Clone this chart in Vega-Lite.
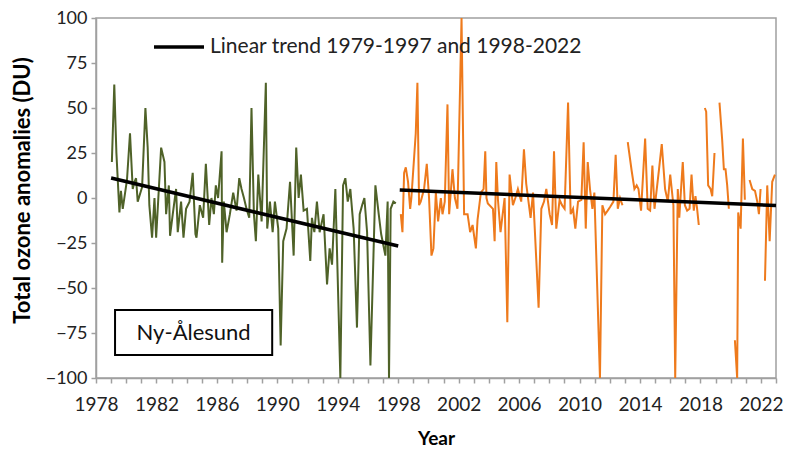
{
  "$schema": "https://vega.github.io/schema/vega-lite/v6.json",
  "width": 680,
  "height": 360,
  "autosize": {"type": "none"},
  "padding": {"left": 96, "top": 18, "right": 13, "bottom": 74},
  "background": "white",
  "config": {
    "view": {"stroke": "#a0a0a0", "strokeWidth": 1.5},
    "font": "Lato",
    "axis": {"grid": false, "domainColor": "#a0a0a0", "domainWidth": 1.5, "tickColor": "#a0a0a0", "tickWidth": 1.5, "labelColor": "#222222", "titleColor": "#000000", "labelFont": "Lato", "titleFont": "Lato"}
  },
  "datasets": {
    "ozone": [
      {"t": 1979.05, "v": 20, "s": "1979-1997"},
      {"t": 1979.21, "v": 63, "s": "1979-1997"},
      {"t": 1979.35, "v": 25, "s": "1979-1997"},
      {"t": 1979.55, "v": -8, "s": "1979-1997"},
      {"t": 1979.65, "v": 4, "s": "1979-1997"},
      {"t": 1979.77, "v": -6, "s": "1979-1997"},
      {"t": 1980.05, "v": 10, "s": "1979-1997"},
      {"t": 1980.25, "v": 36, "s": "1979-1997"},
      {"t": 1980.43, "v": 5, "s": "1979-1997"},
      {"t": 1980.55, "v": 9, "s": "1979-1997"},
      {"t": 1980.65, "v": 11, "s": "1979-1997"},
      {"t": 1980.76, "v": -2, "s": "1979-1997"},
      {"t": 1981.05, "v": 6, "s": "1979-1997"},
      {"t": 1981.27, "v": 50, "s": "1979-1997"},
      {"t": 1981.42, "v": 28, "s": "1979-1997"},
      {"t": 1981.53, "v": -4, "s": "1979-1997"},
      {"t": 1981.71, "v": -22, "s": "1979-1997"},
      {"t": 1981.87, "v": 0, "s": "1979-1997"},
      {"t": 1981.98, "v": -22, "s": "1979-1997"},
      {"t": 1982.31, "v": 28, "s": "1979-1997"},
      {"t": 1982.53, "v": 20, "s": "1979-1997"},
      {"t": 1982.64, "v": -9, "s": "1979-1997"},
      {"t": 1982.82, "v": 7, "s": "1979-1997"},
      {"t": 1982.9, "v": -21, "s": "1979-1997"},
      {"t": 1983.08, "v": -9, "s": "1979-1997"},
      {"t": 1983.3, "v": 5, "s": "1979-1997"},
      {"t": 1983.41, "v": -19, "s": "1979-1997"},
      {"t": 1983.63, "v": -2, "s": "1979-1997"},
      {"t": 1983.79, "v": -22, "s": "1979-1997"},
      {"t": 1983.96, "v": -6, "s": "1979-1997"},
      {"t": 1984.19, "v": -2, "s": "1979-1997"},
      {"t": 1984.4, "v": 14, "s": "1979-1997"},
      {"t": 1984.58, "v": -20, "s": "1979-1997"},
      {"t": 1984.65, "v": -22, "s": "1979-1997"},
      {"t": 1984.87, "v": -4, "s": "1979-1997"},
      {"t": 1985.09, "v": -11, "s": "1979-1997"},
      {"t": 1985.27, "v": 19, "s": "1979-1997"},
      {"t": 1985.49, "v": -15, "s": "1979-1997"},
      {"t": 1985.64, "v": 0, "s": "1979-1997"},
      {"t": 1985.8, "v": -9, "s": "1979-1997"},
      {"t": 1985.93, "v": 7, "s": "1979-1997"},
      {"t": 1986.08, "v": 0, "s": "1979-1997"},
      {"t": 1986.31, "v": 26, "s": "1979-1997"},
      {"t": 1986.35, "v": -36, "s": "1979-1997"},
      {"t": 1986.46, "v": -2, "s": "1979-1997"},
      {"t": 1986.64, "v": -19, "s": "1979-1997"},
      {"t": 1986.86, "v": -9, "s": "1979-1997"},
      {"t": 1987.08, "v": 3, "s": "1979-1997"},
      {"t": 1987.3, "v": -7, "s": "1979-1997"},
      {"t": 1987.48, "v": 11, "s": "1979-1997"},
      {"t": 1987.63, "v": 5, "s": "1979-1997"},
      {"t": 1987.79, "v": 0, "s": "1979-1997"},
      {"t": 1987.96, "v": -6, "s": "1979-1997"},
      {"t": 1988.14, "v": -11, "s": "1979-1997"},
      {"t": 1988.29, "v": 50, "s": "1979-1997"},
      {"t": 1988.45, "v": -9, "s": "1979-1997"},
      {"t": 1988.58, "v": -24, "s": "1979-1997"},
      {"t": 1988.74, "v": 13, "s": "1979-1997"},
      {"t": 1988.96, "v": -13, "s": "1979-1997"},
      {"t": 1989.24, "v": 64, "s": "1979-1997"},
      {"t": 1989.33, "v": -17, "s": "1979-1997"},
      {"t": 1989.51, "v": -2, "s": "1979-1997"},
      {"t": 1989.69, "v": -19, "s": "1979-1997"},
      {"t": 1989.84, "v": -2, "s": "1979-1997"},
      {"t": 1990.06, "v": -17, "s": "1979-1997"},
      {"t": 1990.22, "v": -82, "s": "1979-1997"},
      {"t": 1990.39, "v": -24, "s": "1979-1997"},
      {"t": 1990.61, "v": -17, "s": "1979-1997"},
      {"t": 1990.84, "v": 9, "s": "1979-1997"},
      {"t": 1991.08, "v": -32, "s": "1979-1997"},
      {"t": 1991.25, "v": 28, "s": "1979-1997"},
      {"t": 1991.41, "v": 0, "s": "1979-1997"},
      {"t": 1991.56, "v": 13, "s": "1979-1997"},
      {"t": 1991.74, "v": -7, "s": "1979-1997"},
      {"t": 1991.96, "v": -6, "s": "1979-1997"},
      {"t": 1992.18, "v": -35, "s": "1979-1997"},
      {"t": 1992.29, "v": -11, "s": "1979-1997"},
      {"t": 1992.45, "v": -19, "s": "1979-1997"},
      {"t": 1992.62, "v": -2, "s": "1979-1997"},
      {"t": 1992.8, "v": -19, "s": "1979-1997"},
      {"t": 1993.06, "v": -9, "s": "1979-1997"},
      {"t": 1993.29, "v": -48, "s": "1979-1997"},
      {"t": 1993.46, "v": -28, "s": "1979-1997"},
      {"t": 1993.62, "v": -37, "s": "1979-1997"},
      {"t": 1993.84, "v": 5, "s": "1979-1997"},
      {"t": 1994.17, "v": -100, "s": "1979-1997"},
      {"t": 1994.35, "v": 7, "s": "1979-1997"},
      {"t": 1994.5, "v": 11, "s": "1979-1997"},
      {"t": 1994.66, "v": -2, "s": "1979-1997"},
      {"t": 1994.83, "v": 5, "s": "1979-1997"},
      {"t": 1995.05, "v": -17, "s": "1979-1997"},
      {"t": 1995.27, "v": -72, "s": "1979-1997"},
      {"t": 1995.45, "v": -9, "s": "1979-1997"},
      {"t": 1995.61, "v": -4, "s": "1979-1997"},
      {"t": 1995.76, "v": 0, "s": "1979-1997"},
      {"t": 1995.94, "v": -19, "s": "1979-1997"},
      {"t": 1996.16, "v": -93, "s": "1979-1997"},
      {"t": 1996.49, "v": 7, "s": "1979-1997"},
      {"t": 1996.71, "v": -9, "s": "1979-1997"},
      {"t": 1996.87, "v": -20, "s": "1979-1997"},
      {"t": 1997.15, "v": -32, "s": "1979-1997"},
      {"t": 1997.3, "v": -2, "s": "1979-1997"},
      {"t": 1997.39, "v": -100, "s": "1979-1997"},
      {"t": 1997.5, "v": -6, "s": "1979-1997"},
      {"t": 1997.68, "v": -2, "s": "1979-1997"},
      {"t": 1997.84, "v": -3, "s": "1979-1997"},
      {"t": 1998.17, "v": -9, "s": "1998-2022"},
      {"t": 1998.28, "v": -19, "s": "1998-2022"},
      {"t": 1998.39, "v": 14, "s": "1998-2022"},
      {"t": 1998.5, "v": 17, "s": "1998-2022"},
      {"t": 1998.65, "v": 9, "s": "1998-2022"},
      {"t": 1998.79, "v": -6, "s": "1998-2022"},
      {"t": 1998.87, "v": 0, "s": "1998-2022"},
      {"t": 1999.16, "v": 36, "s": "1998-2022"},
      {"t": 1999.27, "v": 64, "s": "1998-2022"},
      {"t": 1999.38, "v": -4, "s": "1998-2022"},
      {"t": 1999.49, "v": -2, "s": "1998-2022"},
      {"t": 1999.71, "v": 5, "s": "1998-2022"},
      {"t": 1999.89, "v": 19, "s": "1998-2022"},
      {"t": 2000.04, "v": 0, "s": "1998-2022"},
      {"t": 2000.2, "v": -32, "s": "1998-2022"},
      {"t": 2000.33, "v": -28, "s": "1998-2022"},
      {"t": 2000.49, "v": 3, "s": "1998-2022"},
      {"t": 2000.64, "v": -13, "s": "1998-2022"},
      {"t": 2000.82, "v": 0, "s": "1998-2022"},
      {"t": 2000.93, "v": -9, "s": "1998-2022"},
      {"t": 2001.08, "v": -2, "s": "1998-2022"},
      {"t": 2001.26, "v": 52, "s": "1998-2022"},
      {"t": 2001.37, "v": -9, "s": "1998-2022"},
      {"t": 2001.59, "v": 16, "s": "1998-2022"},
      {"t": 2001.75, "v": 0, "s": "1998-2022"},
      {"t": 2001.92, "v": -6, "s": "1998-2022"},
      {"t": 2002.19, "v": 100, "s": "1998-2022"},
      {"t": 2002.36, "v": -9, "s": "1998-2022"},
      {"t": 2002.59, "v": -9, "s": "1998-2022"},
      {"t": 2002.76, "v": -19, "s": "1998-2022"},
      {"t": 2002.92, "v": -15, "s": "1998-2022"},
      {"t": 2003.14, "v": -28, "s": "1998-2022"},
      {"t": 2003.25, "v": -12, "s": "1998-2022"},
      {"t": 2003.47, "v": 3, "s": "1998-2022"},
      {"t": 2003.65, "v": 5, "s": "1998-2022"},
      {"t": 2003.76, "v": 26, "s": "1998-2022"},
      {"t": 2003.84, "v": 0, "s": "1998-2022"},
      {"t": 2003.93, "v": -3, "s": "1998-2022"},
      {"t": 2004.27, "v": -6, "s": "1998-2022"},
      {"t": 2004.38, "v": -24, "s": "1998-2022"},
      {"t": 2004.49, "v": 20, "s": "1998-2022"},
      {"t": 2004.6, "v": -1, "s": "1998-2022"},
      {"t": 2004.77, "v": -19, "s": "1998-2022"},
      {"t": 2005.04, "v": 0, "s": "1998-2022"},
      {"t": 2005.22, "v": -69, "s": "1998-2022"},
      {"t": 2005.37, "v": 13, "s": "1998-2022"},
      {"t": 2005.59, "v": -4, "s": "1998-2022"},
      {"t": 2005.75, "v": 0, "s": "1998-2022"},
      {"t": 2005.92, "v": 5, "s": "1998-2022"},
      {"t": 2006.14, "v": -2, "s": "1998-2022"},
      {"t": 2006.32, "v": 27, "s": "1998-2022"},
      {"t": 2006.47, "v": 8, "s": "1998-2022"},
      {"t": 2006.59, "v": 0, "s": "1998-2022"},
      {"t": 2006.76, "v": -11, "s": "1998-2022"},
      {"t": 2006.92, "v": 3, "s": "1998-2022"},
      {"t": 2007.29, "v": -61, "s": "1998-2022"},
      {"t": 2007.47, "v": -6, "s": "1998-2022"},
      {"t": 2007.65, "v": -2, "s": "1998-2022"},
      {"t": 2007.8, "v": 5, "s": "1998-2022"},
      {"t": 2008.02, "v": -9, "s": "1998-2022"},
      {"t": 2008.18, "v": -15, "s": "1998-2022"},
      {"t": 2008.31, "v": 26, "s": "1998-2022"},
      {"t": 2008.46, "v": -17, "s": "1998-2022"},
      {"t": 2008.68, "v": -1, "s": "1998-2022"},
      {"t": 2008.84, "v": -4, "s": "1998-2022"},
      {"t": 2009.01, "v": -6, "s": "1998-2022"},
      {"t": 2009.24, "v": 53, "s": "1998-2022"},
      {"t": 2009.41, "v": -9, "s": "1998-2022"},
      {"t": 2009.57, "v": -6, "s": "1998-2022"},
      {"t": 2009.72, "v": -17, "s": "1998-2022"},
      {"t": 2009.9, "v": -2, "s": "1998-2022"},
      {"t": 2010.12, "v": -1, "s": "1998-2022"},
      {"t": 2010.27, "v": 31, "s": "1998-2022"},
      {"t": 2010.41, "v": -17, "s": "1998-2022"},
      {"t": 2010.54, "v": 20, "s": "1998-2022"},
      {"t": 2010.69, "v": 5, "s": "1998-2022"},
      {"t": 2010.85, "v": -6, "s": "1998-2022"},
      {"t": 2010.98, "v": 3, "s": "1998-2022"},
      {"t": 2011.35, "v": -100, "s": "1998-2022"},
      {"t": 2011.51, "v": -4, "s": "1998-2022"},
      {"t": 2011.69, "v": -9, "s": "1998-2022"},
      {"t": 2011.86, "v": -7, "s": "1998-2022"},
      {"t": 2012.02, "v": -5, "s": "1998-2022"},
      {"t": 2012.24, "v": -2, "s": "1998-2022"},
      {"t": 2012.39, "v": 24, "s": "1998-2022"},
      {"t": 2012.53, "v": -6, "s": "1998-2022"},
      {"t": 2012.68, "v": 0, "s": "1998-2022"},
      {"t": 2012.84, "v": -4, "s": "1998-2022"},
      {"t": 2013.0, "v": null, "s": "1998-2022"},
      {"t": 2013.19, "v": 31, "s": "1998-2022"},
      {"t": 2013.45, "v": 15, "s": "1998-2022"},
      {"t": 2013.63, "v": 5, "s": "1998-2022"},
      {"t": 2013.78, "v": 7, "s": "1998-2022"},
      {"t": 2013.9, "v": 5, "s": "1998-2022"},
      {"t": 2014.07, "v": -7, "s": "1998-2022"},
      {"t": 2014.34, "v": 33, "s": "1998-2022"},
      {"t": 2014.51, "v": -6, "s": "1998-2022"},
      {"t": 2014.67, "v": -7, "s": "1998-2022"},
      {"t": 2014.82, "v": 18, "s": "1998-2022"},
      {"t": 2014.96, "v": -6, "s": "1998-2022"},
      {"t": 2015.26, "v": 16, "s": "1998-2022"},
      {"t": 2015.44, "v": 30, "s": "1998-2022"},
      {"t": 2015.66, "v": 5, "s": "1998-2022"},
      {"t": 2015.84, "v": -2, "s": "1998-2022"},
      {"t": 2016.0, "v": 13, "s": "1998-2022"},
      {"t": 2016.21, "v": -4, "s": "1998-2022"},
      {"t": 2016.33, "v": -100, "s": "1998-2022"},
      {"t": 2016.5, "v": 5, "s": "1998-2022"},
      {"t": 2016.6, "v": -11, "s": "1998-2022"},
      {"t": 2016.68, "v": 0, "s": "1998-2022"},
      {"t": 2016.83, "v": 20, "s": "1998-2022"},
      {"t": 2016.97, "v": -4, "s": "1998-2022"},
      {"t": 2017.12, "v": -7, "s": "1998-2022"},
      {"t": 2017.28, "v": -6, "s": "1998-2022"},
      {"t": 2017.41, "v": 13, "s": "1998-2022"},
      {"t": 2017.56, "v": -7, "s": "1998-2022"},
      {"t": 2017.67, "v": 1, "s": "1998-2022"},
      {"t": 2017.78, "v": -6, "s": "1998-2022"},
      {"t": 2017.89, "v": -15, "s": "1998-2022"},
      {"t": 2018.1, "v": null, "s": "1998-2022"},
      {"t": 2018.29, "v": 50, "s": "1998-2022"},
      {"t": 2018.38, "v": 48, "s": "1998-2022"},
      {"t": 2018.51, "v": 7, "s": "1998-2022"},
      {"t": 2018.67, "v": 5, "s": "1998-2022"},
      {"t": 2018.78, "v": 1, "s": "1998-2022"},
      {"t": 2018.93, "v": 25, "s": "1998-2022"},
      {"t": 2019.1, "v": null, "s": "1998-2022"},
      {"t": 2019.26, "v": 53, "s": "1998-2022"},
      {"t": 2019.44, "v": 32, "s": "1998-2022"},
      {"t": 2019.55, "v": 16, "s": "1998-2022"},
      {"t": 2019.66, "v": 16, "s": "1998-2022"},
      {"t": 2019.77, "v": 7, "s": "1998-2022"},
      {"t": 2019.88, "v": -6, "s": "1998-2022"},
      {"t": 2020.1, "v": null, "s": "1998-2022"},
      {"t": 2020.28, "v": -79, "s": "1998-2022"},
      {"t": 2020.43, "v": -100, "s": "1998-2022"},
      {"t": 2020.5, "v": -8, "s": "1998-2022"},
      {"t": 2020.66, "v": -17, "s": "1998-2022"},
      {"t": 2020.81, "v": 33, "s": "1998-2022"},
      {"t": 2020.94, "v": -1, "s": "1998-2022"},
      {"t": 2021.1, "v": null, "s": "1998-2022"},
      {"t": 2021.25, "v": 10, "s": "1998-2022"},
      {"t": 2021.43, "v": 5, "s": "1998-2022"},
      {"t": 2021.61, "v": 4, "s": "1998-2022"},
      {"t": 2021.76, "v": -2, "s": "1998-2022"},
      {"t": 2021.87, "v": -9, "s": "1998-2022"},
      {"t": 2021.98, "v": 5, "s": "1998-2022"},
      {"t": 2022.12, "v": null, "s": "1998-2022"},
      {"t": 2022.27, "v": -46, "s": "1998-2022"},
      {"t": 2022.42, "v": 7, "s": "1998-2022"},
      {"t": 2022.58, "v": -24, "s": "1998-2022"},
      {"t": 2022.75, "v": 9, "s": "1998-2022"},
      {"t": 2022.93, "v": 13, "s": "1998-2022"}
    ],
    "trend": [
      {"t": 1979.0, "v": 11.1, "seg": "a", "label": "Linear trend 1979-1997 and 1998-2022"},
      {"t": 1998.0, "v": -26.7, "seg": "a", "label": "Linear trend 1979-1997 and 1998-2022"},
      {"t": 1998.1, "v": 4.4, "seg": "b", "label": "Linear trend 1979-1997 and 1998-2022"},
      {"t": 2023.0, "v": -4.2, "seg": "b", "label": "Linear trend 1979-1997 and 1998-2022"}
    ],
    "station": [
      {"x1": 1979.26, "x2": 1989.66, "y1": -62.2, "y2": -87.2, "xm": 1984.46, "ym": -75, "name": "Ny-Ålesund"}
    ]
  },
  "encoding": {
    "x": {
      "field": "t", "type": "quantitative",
      "scale": {"domain": [1978, 2023], "nice": false, "zero": false},
      "axis": {
        "title": "Year", "titleFontSize": 19, "titleFontWeight": "bold",
        "titleY": 60, "titleBaseline": "middle",
        "values": [1978,1979,1980,1981,1982,1983,1984,1985,1986,1987,1988,1989,1990,1991,1992,1993,1994,1995,1996,1997,1998,1999,2000,2001,2002,2003,2004,2005,2006,2007,2008,2009,2010,2011,2012,2013,2014,2015,2016,2017,2018,2019,2020,2021,2022,2023],
        "labelExpr": "(datum.value - 1978) % 4 == 0 ? '' + datum.value : ''",
        "labelFontSize": 19, "labelPadding": 12, "tickSize": 5, "labelOverlap": false, "labelFlush": false
      }
    },
    "y": {
      "field": "v", "type": "quantitative",
      "scale": {"domain": [-100, 100], "nice": false},
      "axis": {
        "title": "Total ozone anomalies (DU)", "titleFontSize": 22, "titleFontWeight": "bold",
        "titleX": -74, "titleY": 172, "titleBaseline": "middle", "titleAngle": -90,
        "values": [-100, -75, -50, -25, 0, 25, 50, 75, 100],
        "labelFontSize": 18, "labelPadding": 4, "tickSize": 5
      }
    }
  },
  "layer": [
    {
      "data": {"name": "ozone"},
      "mark": {"type": "line", "strokeWidth": 2, "clip": true},
      "encoding": {
        "stroke": {"field": "s", "type": "nominal", "scale": {"domain": ["1979-1997", "1998-2022"], "range": ["#4F6228", "#EE7A1C"]}, "legend": null}
      }
    },
    {
      "data": {"name": "trend"},
      "mark": {"type": "line", "strokeWidth": 3.5},
      "encoding": {
        "detail": {"field": "seg"},
        "color": {
          "field": "label", "type": "nominal",
          "scale": {"range": ["#000000"]},
          "legend": {"title": null, "orient": "none", "legendX": 56, "legendY": 2, "symbolType": "stroke", "symbolSize": 2500, "symbolStrokeWidth": 3.5, "labelFontSize": 21, "labelColor": "#222222", "labelOffset": 4, "labelLimit": 600}
        }
      }
    },
    {
      "data": {"name": "station"},
      "mark": {"type": "rect", "fill": "white", "stroke": "black", "strokeWidth": 2},
      "encoding": {
        "x": {"field": "x1", "type": "quantitative"},
        "x2": {"field": "x2"},
        "y": {"field": "y1", "type": "quantitative"},
        "y2": {"field": "y2"}
      }
    },
    {
      "data": {"name": "station"},
      "mark": {"type": "text", "fontSize": 22, "color": "#111111", "align": "center", "baseline": "middle"},
      "encoding": {
        "x": {"field": "xm", "type": "quantitative"},
        "y": {"field": "ym", "type": "quantitative"},
        "text": {"field": "name"}
      }
    }
  ]
}
